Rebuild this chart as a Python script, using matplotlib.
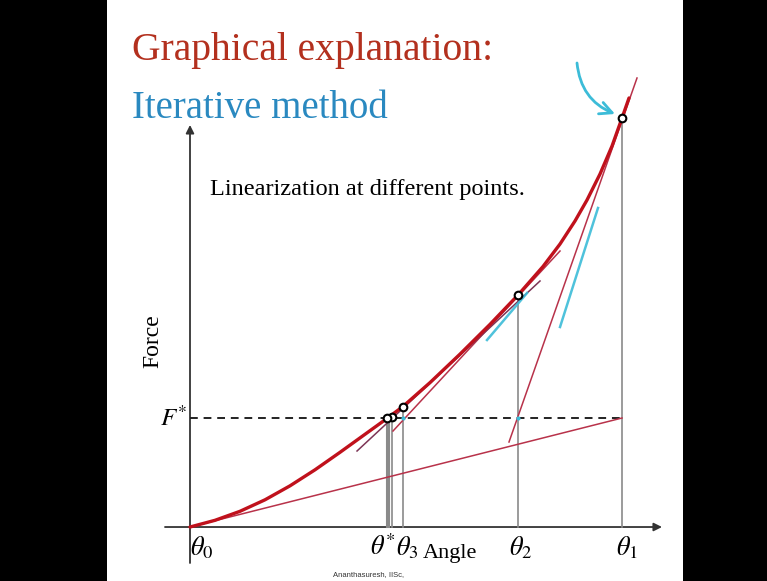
import matplotlib
matplotlib.use("Agg")
import matplotlib.pyplot as plt
from matplotlib.patches import Rectangle

# Force-angle characteristic (normalised: theta_1 -> 1, F(theta_1) -> 1)
curve_theta = [0.0, 0.0579, 0.1157, 0.1736, 0.2315, 0.2894, 0.3472, 0.4051, 0.4583,
               0.4931, 0.5556, 0.6250, 0.6944, 0.7593, 0.8171, 0.8565, 0.8912,
               0.9190, 0.9491, 0.9769, 1.0, 1.0162]
curve_force = [0.0, 0.0164, 0.0384, 0.0665, 0.1007, 0.1399, 0.1826, 0.2267, 0.2672,
               0.2949, 0.3531, 0.4227, 0.4954, 0.5672, 0.6369, 0.6919, 0.7482,
               0.7995, 0.8631, 0.9315, 1.0, 1.0489]

# Newton iterates theta_0 .. theta_4 and the target force
iter_theta = [0.0, 1.0, 0.7593, 0.4931, 0.4676]
iter_force = [0.0, 1.0, 0.5672, 0.2925, 0.2689]
theta_star = 0.456
force_star = 0.2665

# Tangent (linearisation) segments: (theta_a, F_a, theta_b, F_b)
tangent_0 = (0.0, 0.0, 1.0, 0.2665)
tangent_1 = (0.7384, 0.2078, 1.0347, 1.0978)
tangent_2 = (0.4699, 0.2347, 0.8565, 0.6748)
tangent_3 = (0.3866, 0.1858, 0.8102, 0.6015)

# Hand-drawn pen strokes
pen_1 = (0.6875, 0.4572, 0.7801, 0.5721)
pen_2 = (0.8565, 0.4890, 0.9444, 0.7800)

RED = "#c0111c"
TAN = "#b8324a"
TAN_DARK = "#7d3556"
CYAN = "#3cbcd8"
GREY = "#8a8a8a"
SERIF = ["Liberation Serif", "DejaVu Serif"]

fig = plt.figure(figsize=(7.67, 5.81), dpi=100)
fig.patch.set_facecolor("black")
ax = fig.add_axes([0, 0, 1, 1])
ax.set_xlim(-0.4398, 1.3356)
ax.set_ylim(-0.1320, 1.2885)
ax.axis("off")
ax.set_facecolor("black")

# white slide
ax.add_patch(Rectangle((-0.1921, -0.2), 1.3333, 1.6, facecolor="white",
                       edgecolor="none", zorder=0))

# axes with arrow heads
ax.annotate("", xy=(0.0, 0.983), xytext=(0.0, -0.088),
            arrowprops=dict(arrowstyle="-|>", color="#333333", lw=1.3,
                            mutation_scale=12, shrinkA=0, shrinkB=0), zorder=2)
ax.annotate("", xy=(1.0926, 0.0), xytext=(-0.0579, 0.0),
            arrowprops=dict(arrowstyle="-|>", color="#333333", lw=1.3,
                            mutation_scale=12, shrinkA=0, shrinkB=0), zorder=2)

# target force line
ax.plot([0.0, iter_theta[1]], [force_star, force_star], color="#222222",
        lw=1.4, ls=(0, (4, 3)), zorder=3)

# projections of the iterates onto the angle axis
for t, f in zip(iter_theta[1:], iter_force[1:]):
    ax.plot([t, t], [0, f], color=GREY, lw=1.2, zorder=2)
ax.plot([theta_star, theta_star], [0, force_star], color=GREY, lw=1.5, zorder=2)
ax.plot([theta_star + 0.0045, theta_star + 0.0045], [0, force_star], color=GREY,
        lw=1.5, zorder=2)

# linearisations
for seg, c in [(tangent_0, TAN), (tangent_1, TAN), (tangent_2, TAN), (tangent_3, TAN_DARK)]:
    ax.plot([seg[0], seg[2]], [seg[1], seg[3]], color=c, lw=1.1, zorder=3)

# characteristic curve
ax.plot(curve_theta, curve_force, color=RED, lw=2.4, solid_capstyle="round",
        solid_joinstyle="round", zorder=4)

# pen strokes
for seg in (pen_1, pen_2):
    ax.plot([seg[0], seg[2]], [seg[1], seg[3]], color=CYAN, lw=1.8, alpha=0.9, zorder=3)
ax.annotate("", xy=(0.9838, 1.0098), xytext=(0.8958, 1.1345),
            arrowprops=dict(arrowstyle="->", color=CYAN, lw=2.0, mutation_scale=22,
                            connectionstyle="arc3,rad=0.3", shrinkA=0, shrinkB=0),
            zorder=5)

# crossings of the tangents with the target force
ax.plot([iter_theta[2], iter_theta[3]], [force_star, force_star], "o", ms=3,
        color=CYAN, mec="none", zorder=5)

# iterate markers
ax.plot(iter_theta[1:] + [theta_star], iter_force[1:] + [force_star], "o", ms=5.5,
        mfc="white", mec="black", mew=1.5, zorder=6)

# texts
ax.text(-0.1343, 1.1418, "Graphical explanation:", color="#b3301e", fontsize=28.5,
        family=SERIF, va="baseline", ha="left")
ax.text(-0.1343, 1.0, "Iterative method", color="#2a89c0", fontsize=28,
        family=SERIF, va="baseline", ha="left")
ax.text(0.0463, 0.8117, "Linearization at different points.", color="black",
        fontsize=17.5, family=SERIF, va="baseline", ha="left")
ax.text(-0.0856, 0.4548, "Force", rotation=90, fontsize=17, family=SERIF,
        va="center", ha="center")

plt.rcParams["mathtext.fontset"] = "stix"
ax.text(-0.037, force_star, r"$F^{*}$", fontsize=18, va="center", ha="center")
ax.text(0.0, -0.0513, r"$\theta_0$", fontsize=19, va="center", ha="left")
ax.text(0.4468, -0.0513, r"$\theta^{*}$", fontsize=19, va="center", ha="center")
ax.text(0.502, -0.0513, r"$\theta_3$", fontsize=19, va="center", ha="center")
ax.text(0.766, -0.0513, r"$\theta_2$", fontsize=19, va="center", ha="center")
ax.text(1.0116, -0.0513, r"$\theta_1$", fontsize=19, va="center", ha="center")
ax.text(0.5394, -0.0636, "Angle", fontsize=16, family=SERIF, va="center", ha="left")
ax.text(0.4144, -0.1174, "Ananthasuresh, IISc,", fontsize=5.5, color="#333333",
        family=["Liberation Sans", "DejaVu Sans"], va="center", ha="center")

fig.savefig("out.png", dpi=100, facecolor=fig.get_facecolor())
